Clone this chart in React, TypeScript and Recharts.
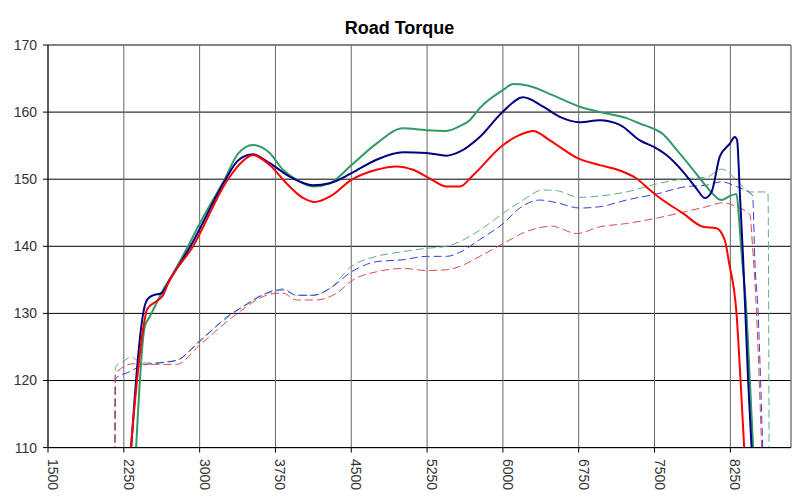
import { CartesianGrid, Line, LineChart, ReferenceLine, XAxis, YAxis } from "recharts"

// rpm / torque pairs
const navyRpm = [2280, 2460, 2489, 2539, 2622, 2704, 2909, 3258, 3380, 3528, 3693, 3891, 4122, 4287, 4502, 4749, 5012, 5244, 5442, 5573, 5771, 6002, 6200, 6398, 6563, 6761, 6959, 7157, 7355, 7520, 7618, 7783, 7915, 7997, 8064, 8146, 8245, 8294, 8317, 8344, 8377, 8426, 8470]
const navyTorque = [100, 131.3, 132.2, 132.7, 133.0, 135.0, 140.0, 150.0, 152.8, 153.7, 152.4, 150.4, 149.1, 149.4, 150.9, 152.9, 154.0, 153.9, 153.5, 154.1, 156.3, 160.1, 162.2, 160.8, 159.3, 158.5, 158.8, 158.1, 155.8, 154.6, 153.6, 151.1, 148.6, 147.2, 148.1, 153.4, 155.3, 156.3, 155.8, 147.9, 138, 120, 107]

const greenRpm = [2340, 2457, 2506, 2556, 2638, 2700, 2885, 3001, 3248, 3380, 3528, 3693, 3825, 3958, 4122, 4287, 4502, 4749, 5012, 5244, 5442, 5573, 5672, 5771, 6002, 6101, 6233, 6497, 6761, 6959, 7223, 7354, 7520, 7568, 7717, 7882, 8014, 8163, 8245, 8311, 8337, 8361, 8410, 8443, 8485]
const greenTorque = [100, 128, 129.5, 131, 133.5, 135, 140, 143.4, 150, 153.8, 155.1, 153.9, 151.4, 149.9, 148.9, 149.4, 152.1, 155.3, 157.6, 157.3, 157.2, 157.9, 158.8, 160.6, 163.3, 164.2, 164.0, 162.5, 160.8, 160.0, 159.1, 158.3, 157.3, 156.9, 154.4, 151.4, 148.9, 146.9, 147.5, 147.8, 143.9, 139, 130, 120, 107]

const redRpm = [2265, 2450, 2480, 2572, 2638, 2680, 2935, 3281, 3420, 3528, 3693, 3858, 4023, 4139, 4287, 4502, 4749, 4947, 5111, 5277, 5442, 5573, 5705, 6002, 6167, 6299, 6464, 6744, 6959, 7157, 7322, 7454, 7553, 7783, 7981, 8113, 8195, 8238, 8311, 8351, 8387, 8420]
const redTorque = [100, 128.5, 130.6, 131.8, 132.7, 134.2, 140, 150, 152.6, 153.6, 152.1, 149.4, 147.2, 146.6, 147.4, 149.9, 151.4, 151.9, 151.4, 150.1, 148.9, 148.9, 150.6, 155.1, 156.6, 157.2, 155.8, 153.1, 152.1, 151.3, 150.1, 148.4, 147.2, 144.9, 142.9, 142.7, 140.9, 137.5, 130, 120, 110, 103]

const blueDashRpm = [2160, 2170, 2308, 2440, 2600, 2770, 3001, 3298, 3430, 3661, 3760, 3825, 3958, 4122, 4287, 4502, 4749, 5012, 5244, 5442, 5573, 5771, 6002, 6167, 6365, 6530, 6761, 6959, 7223, 7520, 7816, 8014, 8163, 8311, 8470, 8492, 8525, 8549, 8580]
const blueDashTorque = [100, 120.3, 121.3, 122.3, 122.6, 123.0, 125.8, 129.8, 131.0, 133.0, 133.5, 133.5, 132.7, 132.7, 133.7, 136.2, 137.7, 138.0, 138.5, 138.5, 139.1, 141.0, 143.4, 145.7, 146.9, 146.5, 145.7, 145.9, 146.9, 147.8, 148.9, 149.1, 149.6, 148.9, 147.6, 138, 130, 120, 105]

const redDashRpm = [2158, 2163, 2216, 2341, 2473, 2770, 3001, 3331, 3661, 3760, 3825, 3958, 4155, 4353, 4518, 4749, 5012, 5244, 5442, 5573, 5771, 6002, 6233, 6497, 6563, 6728, 6959, 7223, 7520, 7816, 8014, 8179, 8311, 8443, 8470, 8509, 8536, 8570]
const redDashTorque = [100, 120.8, 121.7, 122.5, 122.4, 122.4, 125.3, 129.5, 132.7, 133.0, 133.0, 132.0, 132.0, 133.0, 135.0, 136.2, 136.7, 136.4, 136.5, 137.0, 138.5, 140.4, 142.2, 143.0, 142.7, 141.9, 142.9, 143.4, 144.2, 145.2, 145.9, 146.5, 145.9, 144.7, 139.9, 130, 120, 105]

const greenDashRpm = [2162, 2166, 2242, 2325, 2374, 2440, 2770, 3001, 3331, 3661, 3760, 3825, 3958, 4122, 4287, 4502, 4749, 5012, 5244, 5442, 5573, 5771, 6002, 6200, 6398, 6530, 6761, 6959, 7223, 7520, 7816, 8014, 8163, 8311, 8443, 8622, 8635]
const greenDashTorque = [100, 122.0, 122.8, 123.5, 123.1, 122.6, 123.0, 126.0, 130.0, 133.0, 133.3, 133.7, 132.7, 132.7, 133.7, 137.0, 138.5, 139.2, 139.7, 140.0, 140.7, 142.4, 144.9, 146.9, 148.4, 148.3, 147.3, 147.5, 148.1, 149.3, 150.1, 150.3, 151.5, 149.9, 148.1, 148.1, 100]

const xTicks = [1500, 2250, 3000, 3750, 4500, 5250, 6000, 6750, 7500, 8250]
const yTicks = [110, 120, 130, 140, 150, 160, 170]

const toPoints = (rpm: number[], torque: number[]) =>
  rpm.map((r, i) => ({ rpm: r, t: torque[i] }))

const FONT = "'Liberation Sans', Arial, sans-serif"

const XTick = ({ x, payload }: any) => {
  const top = 459
  return (
    <text
      x={x}
      y={top}
      transform={`rotate(90 ${x} ${top})`}
      textAnchor="start"
      fill="#333"
      fontSize={14}
      fontFamily={FONT}
    >
      {payload.value}
    </text>
  )
}

export default function App() {
  const series = [
    { key: "gd", data: toPoints(greenDashRpm, greenDashTorque), color: "#5fae86", width: 1, dash: "8 4" },
    { key: "bd", data: toPoints(blueDashRpm, blueDashTorque), color: "#3a3ae6", width: 1, dash: "8 4" },
    { key: "rd", data: toPoints(redDashRpm, redDashTorque), color: "#e04848", width: 1, dash: "8 4" },
    { key: "g", data: toPoints(greenRpm, greenTorque), color: "#339966", width: 2, dash: undefined },
    { key: "n", data: toPoints(navyRpm, navyTorque), color: "#000080", width: 2, dash: undefined },
    { key: "r", data: toPoints(redRpm, redTorque), color: "#ff0000", width: 2, dash: undefined },
  ]

  return (
    <div style={{ position: "absolute", left: 0, top: 0, width: 799, height: 502, background: "#fff", fontFamily: FONT }}>
      <div
        style={{
          position: "absolute",
          top: 19,
          left: 0,
          width: 799,
          textAlign: "center",
          fontWeight: "bold",
          fontSize: 18,
          lineHeight: "18px",
          color: "#000",
        }}
      >
        Road Torque
      </div>
      <LineChart width={799} height={502} margin={{ top: 45, right: 8, bottom: 0, left: 0 }}>
        <CartesianGrid vertical={false} stroke="#000" />
        <CartesianGrid horizontal={false} stroke="#666" />
        <XAxis
          type="number"
          dataKey="rpm"
          domain={[1500, 8850]}
          ticks={xTicks}
          allowDataOverflow
          height={54.4}
          stroke="#000"
          tickSize={5}
          tick={<XTick />}
        />
        <YAxis
          type="number"
          domain={[110, 170]}
          ticks={yTicks}
          allowDataOverflow
          width={48}
          stroke="#000"
          tickSize={5}
          tickMargin={6}
          tick={{ fill: "#333", fontSize: 14, fontFamily: FONT }}
        />
        <ReferenceLine y={170} stroke="#888" />
        <ReferenceLine x={8850} stroke="#888" />
        {series.map((s) => (
          <Line
            key={s.key}
            data={s.data}
            dataKey="t"
            type="monotone"
            stroke={s.color}
            strokeWidth={s.width}
            strokeDasharray={s.dash}
            dot={false}
            activeDot={false}
            isAnimationActive={false}
          />
        ))}
      </LineChart>
    </div>
  )
}
